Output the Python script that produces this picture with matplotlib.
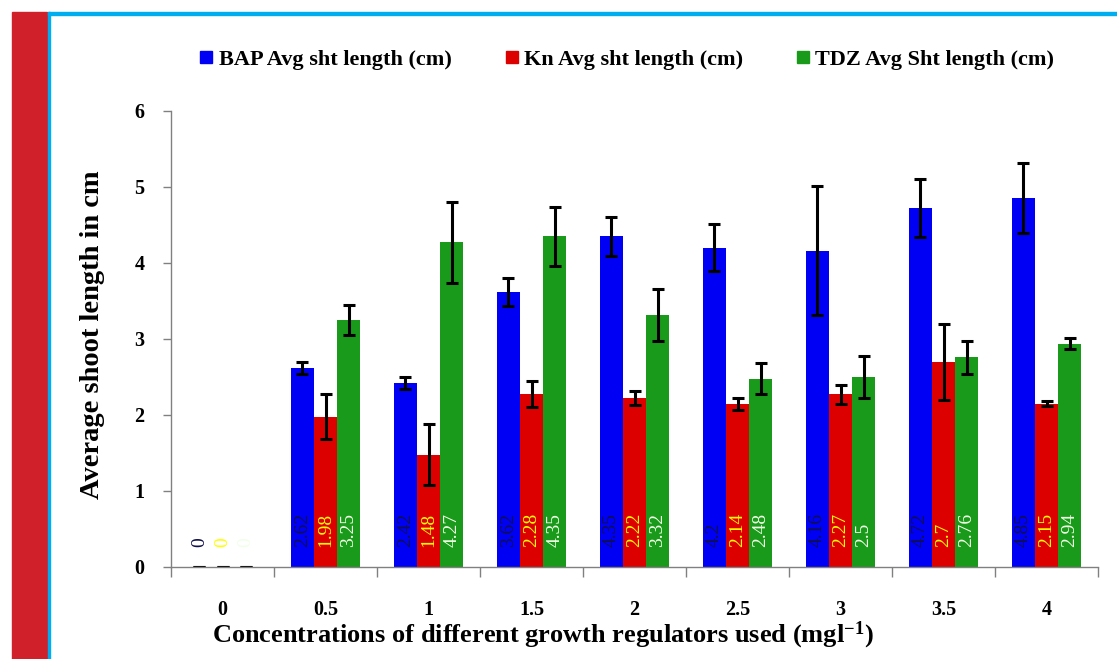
import matplotlib
matplotlib.use("Agg")
import matplotlib.pyplot as plt
from matplotlib.patches import Rectangle
from matplotlib.lines import Line2D
from matplotlib.ticker import FixedLocator
import numpy as np

# Concentrations (mg/l) and mean shoot lengths (cm) with their error margins
concentrations = ["0", "0.5", "1", "1.5", "2", "2.5", "3", "3.5", "4"]
bap_length = [0, 2.62, 2.42, 3.62, 4.35, 4.2, 4.16, 4.72, 4.85]
kn_length = [0, 1.98, 1.48, 2.28, 2.22, 2.14, 2.27, 2.7, 2.15]
tdz_length = [0, 3.25, 4.27, 4.35, 3.32, 2.48, 2.5, 2.76, 2.94]
bap_err = [0, 0.08, 0.08, 0.18, 0.26, 0.31, 0.85, 0.38, 0.46]
kn_err = [0, 0.30, 0.40, 0.17, 0.09, 0.08, 0.13, 0.50, 0.03]
tdz_err = [0, 0.20, 0.53, 0.39, 0.34, 0.20, 0.27, 0.22, 0.07]

series_names = ["BAP Avg sht length (cm)", "Kn Avg sht length (cm)",
                "TDZ Avg Sht length (cm)"]
bar_colors = ["#0000F5", "#DD0000", "#1A9A1A"]
label_colors = ["#10104A", "#FFFF00", "#F2FFE8"]

serif = ["Liberation Serif", "DejaVu Serif"]
plt.rcParams["mathtext.default"] = "regular"

fig = plt.figure(figsize=(11.17, 6.59), dpi=100)
W, H = 1117, 659

# page decoration: red side strip and thin blue frame lines
fig.patches.append(Rectangle((12 / W, 0), 35 / W, 1 - 12 / H,
                             transform=fig.transFigure, color="#D0202A",
                             zorder=0))
fig.patches.append(Rectangle((47.5 / W, 0), 2.5 / W, 1 - 12 / H,
                             transform=fig.transFigure, color="#00AEEF",
                             zorder=0))
fig.patches.append(Rectangle((47.5 / W, 1 - 14.5 / H), 1 - 47.5 / W, 2.5 / H,
                             transform=fig.transFigure, color="#00AEEF",
                             zorder=0))

ax = fig.add_axes([171 / W, (H - 567) / H, (1098 - 171) / W, (567 - 111) / H])

x = np.arange(len(concentrations))
width = 0.225
offsets = [-width, 0, width]
values = [bap_length, kn_length, tdz_length]
errors = [bap_err, kn_err, tdz_err]

for vals, errs, off, col, lcol in zip(values, errors, offsets, bar_colors,
                                       label_colors):
    ax.bar(x + off, vals, width, color=col, yerr=errs,
           error_kw=dict(ecolor="black", elinewidth=2.2, capsize=4.5,
                         capthick=2.2), zorder=2)
    for xi, v in zip(x, vals):
        ax.text(xi + off, 0.26, f"{v:g}", rotation=90, ha="center",
                va="bottom", color=lcol, fontsize=14, family=serif,
                zorder=3)

ax.set_xlim(-0.5, len(concentrations) - 0.5)
ax.set_ylim(0, 6)
ax.set_yticks(range(0, 7))
ax.set_xticks(x)
ax.set_xticklabels(concentrations)
ax.xaxis.set_minor_locator(FixedLocator(np.arange(-0.5, len(concentrations), 1)))
ax.tick_params(axis="x", which="major", length=0, pad=24)
ax.tick_params(axis="x", which="minor", length=7, color="#808080", width=1)
ax.tick_params(axis="y", length=6, color="#808080", width=1, pad=13)
for lbl in ax.get_xticklabels() + ax.get_yticklabels():
    lbl.set_family(serif)
    lbl.set_fontweight("bold")
    lbl.set_fontsize(14.5)

for side in ("top", "right"):
    ax.spines[side].set_visible(False)
for side in ("left", "bottom"):
    ax.spines[side].set_color("#808080")
    ax.spines[side].set_linewidth(1)

ax.set_xlabel("Concentrations of different growth regulators used (mgl$^{-1}$)",
              family=serif, fontweight="bold", fontsize=19)
ax.xaxis.set_label_coords((543 - 171) / (1098 - 171), -0.116)
ax.set_ylabel("Average shoot length in cm", family=serif, fontweight="bold",
              fontsize=20.5)
ax.yaxis.set_label_coords(-0.071, (567 - 335) / (567 - 111))

handles = [Line2D([], [], marker="s", linestyle="none", markersize=9,
                  markerfacecolor=c, markeredgecolor=c) for c in bar_colors]
leg = fig.legend(handles, series_names, ncol=3, loc="center",
                 bbox_to_anchor=(627 / W, 1 - 60 / H), frameon=False,
                 handlelength=0.6, handletextpad=0.25, columnspacing=2.4,
                 prop=dict(family=serif, weight="bold", size=16))

fig.savefig("out.png", dpi=100)
